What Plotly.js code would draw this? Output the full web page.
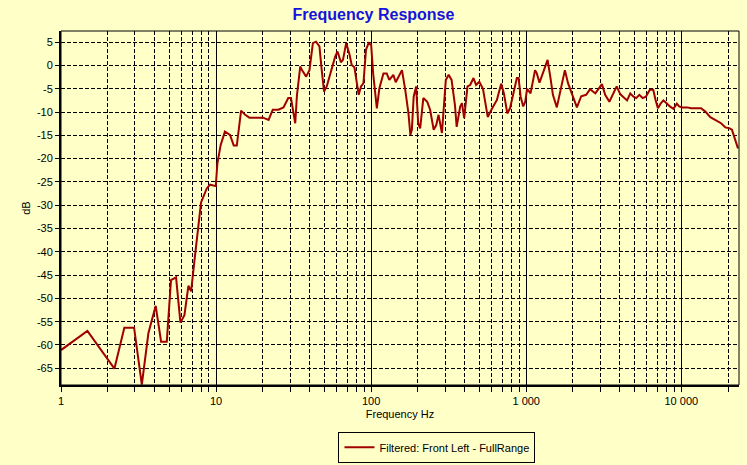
<!DOCTYPE html>
<html>
<head>
<meta charset="utf-8">
<script src="https://cdn.plot.ly/plotly-3.0.1.min.js"></script>
<style>html,body{margin:0;padding:0;background:#FFFFC8;}</style>
</head>
<body>
<div id="chart" style="width:747px;height:465px;"></div>
<script>
// Frequency (Hz) and level (dB)
const freqHz = [
  1, 1.48, 2.21, 2.56, 2.96, 3.32, 3.66, 4.08, 4.42, 4.81,
  5.12, 5.52, 5.89, 6.25, 6.63, 6.9, 7.32, 7.62, 8.0, 8.71,
  9.15, 9.95, 10.2, 10.7, 11.4, 12.3, 13.0, 13.6, 14.5, 15.4,
  16.4, 20.1, 21.8, 23.2, 25.2, 27.2, 29.2, 30.4, 31.5, 32.4,
  33.2, 34.9, 35.8, 38.1, 40.0, 42.1, 44.1, 46.4, 48.0, 49.7,
  51.7, 54.4, 58.6, 60.7, 63.8, 65.8, 69.0, 72.6, 74.9, 78.0,
  83.1, 86.0, 89.2, 92.6, 96.3, 100, 103, 108.8, 113, 120,
  126, 131, 139, 144, 158, 166, 174, 179, 183, 188,
  195, 201, 207, 217, 230, 240, 253, 263, 272, 286,
  297, 303, 316, 330, 347, 356, 375, 385, 398, 418,
  435, 457, 475, 498, 526, 565, 596, 647, 689, 718,
  755, 786, 814, 870, 893, 920, 956, 985, 1013, 1066,
  1140, 1170, 1218, 1282, 1326, 1373, 1429, 1486, 1575, 1668,
  1775, 1860, 1983, 2122, 2262, 2433, 2580, 2791, 3077, 3229,
  3437, 3642, 3830, 4045, 4254, 4470, 4686, 4920, 5120, 5360,
  5630, 5910, 6266, 6590, 6822, 7064, 7350, 7662, 8040, 8440,
  8896, 9355, 9680, 10170, 10940, 11560, 13400, 14290, 15380, 16820,
  18040, 19230, 20500, 21200, 22300, 23200
];
const levelDb = [
  -61.1, -57.0, -65.1, -56.3, -56.3, -68.5, -57.5, -51.6, -59.3, -59.3,
  -46.1, -45.5, -55.2, -53.6, -47.3, -48.5, -40.7, -35.3, -29.4, -26.4,
  -25.6, -25.9, -21.0, -17.1, -14.2, -14.9, -17.2, -17.2, -9.7, -10.6,
  -11.2, -11.2, -11.7, -9.5, -9.5, -9.0, -7.0, -7.0, -10.6, -12.4,
  -6.5, -0.2, -1.0, -2.4, -1.0, 4.8, 5.1, 4.1, -1.0, -5.6,
  -4.5, -1.7, 1.9, 3.0, 0.7, 1.2, 4.8, 2.3, 0.1, -0.4,
  -6.3, -4.5, -3.8, 3.4, 4.8, 4.4, -1.7, -9.2, -4.9, -1.7,
  -1.7, -3.1, -2.0, -3.6, -1.0, -5.3, -10.3, -14.9, -13.8, -6.7,
  -4.5, -12.4, -13.5, -7.0, -7.8, -9.5, -13.8, -12.8, -10.6, -14.5,
  -8.1, -3.1, -2.0, -3.1, -8.5, -13.2, -8.8, -8.1, -11.3, -4.5,
  -4.2, -2.7, -4.2, -3.5, -5.0, -11.1, -9.5, -7.4, -3.9, -6.0,
  -10.3, -9.2, -7.0, -2.7, -2.7, -6.7, -8.8, -7.8, -5.0, -6.0,
  -1.0, -1.7, -3.7, -1.7, -0.1, 1.2, -2.4, -6.3, -9.0, -5.3,
  -1.0, -3.8, -6.3, -9.0, -6.6, -6.3, -5.1, -6.0, -4.0, -6.3,
  -7.8, -6.0, -4.5, -6.2, -6.9, -7.5, -6.0, -6.7, -7.0, -6.3,
  -7.0, -6.7, -5.2, -5.2, -7.4, -9.2, -8.2, -7.5, -8.1, -8.8,
  -9.3, -8.2, -8.8, -9.0, -9.0, -9.2, -9.2, -9.9, -11.1, -11.8,
  -12.4, -13.3, -13.5, -13.8, -16.0, -17.8
];
const seriesName = 'Filtered: Front Left - FullRange';

const xTickVals = [1, 10, 100, 1000, 10000];
const xTickText = ['1', '10', '100', '1 000', '10 000'];
const yTickVals = [5, 0, -5, -10, -15, -20, -25, -30, -35, -40, -45, -50, -55, -60, -65];
const yTickText = ['5', '0', '-5', '-10', '-15', '-20', '-25', '-30', '-35', '-40', '-45', '-50', '-55', '-60', '-65'];

// minor (2..9 per decade) grid positions
const xMinorVals = [];
for (const dec of [1, 10, 100, 1000, 10000]) {
  for (let m = 2; m <= 9; m++) {
    if (dec * m < 24000) xMinorVals.push(dec * m);
  }
}

const FONT = 'Liberation Sans, Arial, sans-serif';
const BG = '#FFFFC8';

const trace = {
  x: freqHz, y: levelDb, type: 'scatter', mode: 'lines', name: seriesName,
  line: {color: '#A00000', width: 2}, hoverinfo: 'skip'
};

const layout = {
  width: 747, height: 465,
  paper_bgcolor: BG, plot_bgcolor: BG,
  margin: {l: 61, r: 8, t: 31, b: 80},
  font: {family: FONT, size: 11, color: '#000'},
  title: {
    text: '<b>Frequency Response</b>',
    font: {family: FONT, size: 16, color: '#1414DC'},
    x: 0.5, xref: 'container', y: 0.970, yref: 'container', yanchor: 'middle'
  },
  showlegend: true,
  legend: {
    x: 0.585, xref: 'container', xanchor: 'center',
    y: 0.038, yref: 'container', yanchor: 'middle', orientation: 'h',
    bgcolor: 'rgba(0,0,0,0)', bordercolor: '#000', borderwidth: 1,
    font: {family: FONT, size: 11, color: '#000'},
    itemwidth: 30
  },
  xaxis: {
    type: 'log', range: [0, Math.log10(23550)],
    tickmode: 'array', tickvals: xTickVals, ticktext: xTickText,
    showgrid: true, gridcolor: '#000', gridwidth: 1,
    ticks: 'outside', ticklen: 5, tickcolor: '#000', tickwidth: 1,
    showline: true, linecolor: '#000', linewidth: 2,
    zeroline: false, automargin: false,
    tickfont: {family: FONT, size: 11, color: '#000'},
    minor: {
      tickmode: 'array', tickvals: xMinorVals,
      ticks: 'outside', ticklen: 5, tickcolor: '#000', tickwidth: 1,
      showgrid: true, gridcolor: '#000', gridwidth: 1, griddash: '4px,2px'
    },
    title: {text: 'Frequency Hz', font: {family: FONT, size: 11, color: '#000'}, standoff: 4}
  },
  yaxis: {
    range: [-68.6, 7.4],
    tickmode: 'array', tickvals: yTickVals, ticktext: yTickText,
    showgrid: true, gridcolor: '#000', gridwidth: 1, griddash: '4px,2px',
    ticks: 'outside', ticklen: 4, tickcolor: '#000', tickwidth: 1,
    showline: true, linecolor: '#000', linewidth: 2,
    zeroline: false, automargin: false,
    tickfont: {family: FONT, size: 11, color: '#000'},
    title: {text: 'dB', font: {family: FONT, size: 11, color: '#000'}, standoff: 4}
  },
  shapes: [
    {type: 'rect', xref: 'paper', yref: 'paper', x0: 0, x1: 1, y0: 0, y1: 1,
     line: {color: '#000', width: 1}, fillcolor: 'rgba(0,0,0,0)', layer: 'above'}
  ]
};

Plotly.newPlot('chart', [trace], layout, {displayModeBar: false, staticPlot: true});
</script>
</body>
</html>
